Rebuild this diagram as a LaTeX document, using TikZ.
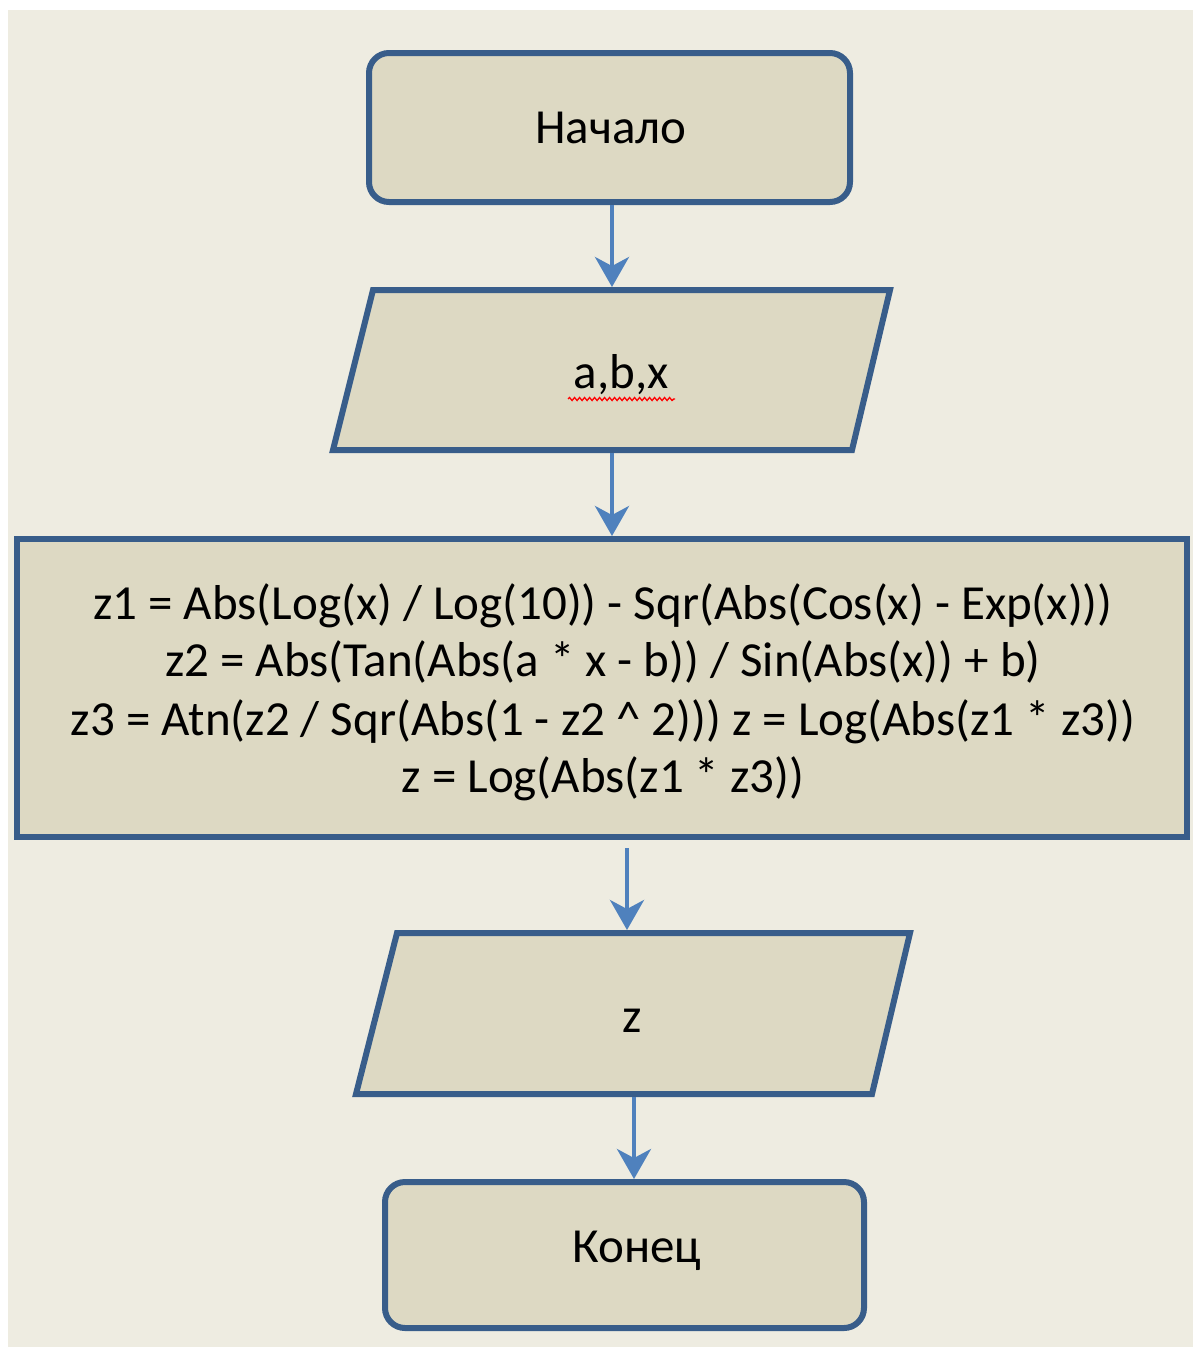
\documentclass[tikz,border=0pt]{standalone}
\usepackage{fontspec}
\setmainfont{Carlito}
\usetikzlibrary{arrows.meta,decorations.pathmorphing}
\definecolor{bgc}{HTML}{EEECE1}
\definecolor{fillc}{HTML}{DDD9C3}
\definecolor{edgec}{HTML}{385D8A}
\definecolor{arrc}{HTML}{4F81BD}
\begin{document}
\begin{tikzpicture}[x=1pt,y=-1pt,
  box/.style={draw=edgec, fill=fillc, line width=6pt, line join=miter},
  term/.style={box, rounded corners=20pt, inner sep=0pt},
  flow/.style={draw=arrc, line width=4pt, -{Stealth[length=30pt,width=34pt,inset=9pt]}},
  txt/.style={font=\fontsize{49}{57.7}\selectfont, text=black, align=center, inner sep=0pt}]
\useasboundingbox (0,0) rectangle (1193,1347);
\fill[white] (0,0) rectangle (1193,1347);
\fill[bgc] (8,10) rectangle (1193,1347);
% terminals and process
\node[term, minimum width=481pt, minimum height=149pt] (start) at (609.5,127.5) {};
\node[box, inner sep=0pt, minimum width=1170pt, minimum height=298pt] (proc) at (602,688) {};
\node[term, minimum width=479pt, minimum height=146pt] (stop) at (624.5,1255) {};
% parallelograms
\draw[box] (373,290) -- (890,290) -- (852,450) -- (333,450) -- cycle;
\draw[box] (397,933) -- (910,933) -- (872,1094) -- (356,1094) -- cycle;
\coordinate (inTop) at (612,287);
\coordinate (inBot) at (612,453);
\coordinate (outTop) at (627,930);
\coordinate (outBot) at (634,1097);
% texts
\node[txt, anchor=base] (tstart) at (611,143) {Начало};
\node[txt, anchor=base] (tin) at (621,388) {a,b,x};
\draw[red, line width=1.3pt, decorate, decoration={snake, amplitude=1.5pt, segment length=5pt}] (568,399) -- (675,399);
\node[txt, anchor=base] (tl1) at (603,619) {z1 = Abs(Log(x) / Log(10)) - Sqr(Abs(Cos(x) - Exp(x)))};
\node[txt, anchor=base] (tl2) at (603,676) {z2 = Abs(Tan(Abs(a * x - b)) / Sin(Abs(x)) + b)};
\node[txt, anchor=base] (tl3) at (603,735) {z3 = Atn(z2 / Sqr(Abs(1 - z2 \^{} 2))) z = Log(Abs(z1 * z3))};
\node[txt, anchor=base] (tl4) at (603,792) {z = Log(Abs(z1 * z3))};
\node[txt, anchor=base] (tout) at (632,1032) {z};
\node[txt, anchor=base] (tstop) at (637,1262) {Конец};
% connectors
\draw[flow] (start.south -| inTop) -- (inTop);
\draw[flow] (inBot) -- (inBot |- proc.north);
\draw[flow] ([yshift=-8pt]proc.south -| outTop) -- (outTop);
\draw[flow] (outBot) -- (outBot |- stop.north);
\end{tikzpicture}
\end{document}
